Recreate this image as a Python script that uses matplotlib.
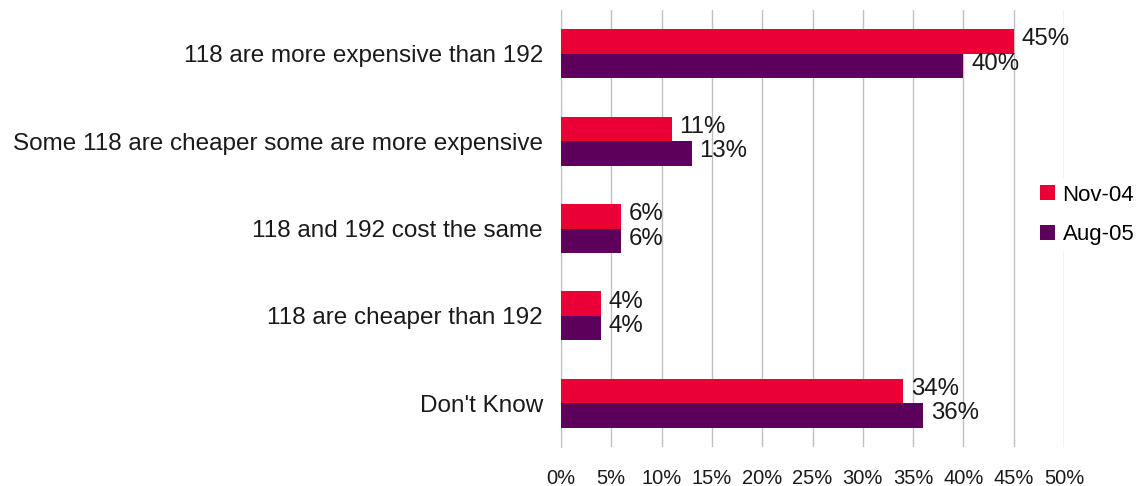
import numpy as np
import matplotlib.pyplot as plt

plt.rcParams['font.family'] = ['Liberation Sans', 'DejaVu Sans']

categorias = ["118 are more expensive than 192",
              "Some 118 are cheaper some are more expensive",
              "118 and 192 cost the same",
              "118 are cheaper than 192",
              "Don't Know"]
nov04 = [45, 11, 6, 4, 34]
aug05 = [40, 13, 6, 4, 36]
series = ["Nov-04", "Aug-05"]
colores = ["#EA0037", "#5C005C"]

fs = 17.3
fig = plt.figure(figsize=(11.43, 4.86), dpi=100)
ax = fig.add_axes([0.4908, 0.0802, 0.4401, 0.8992])

y = np.arange(len(categorias))
alto = 0.28
for k, (vals, nombre, color) in enumerate(zip([nov04, aug05], series, colores)):
    pos = y - alto / 2 + k * alto
    ax.barh(pos, vals, height=alto, color=color, label=nombre, zorder=3)
    for p, v in zip(pos, vals):
        ax.annotate(f"{v}%", (v, p), xytext=(5.5, 1.5), textcoords='offset points',
                    va='center', ha='left', fontsize=fs, color='#1a1a1a', zorder=4)

ax.set_ylim(len(categorias) - 0.5, -0.5)
ax.set_xlim(0, 50)
ax.set_xticks(np.arange(0, 51, 5))
ax.set_xticklabels([f"{t}%" for t in range(0, 51, 5)])
ax.set_yticks(y)
ax.set_yticklabels(categorias)
ax.tick_params(axis='both', length=0, colors='#1a1a1a')
ax.tick_params(axis='x', pad=16, labelsize=14.5)
ax.tick_params(axis='y', pad=13, labelsize=17.5)

ax.grid(axis='x', color='#c0c0c0', linewidth=1, zorder=0)
for s in ['top', 'right', 'bottom']:
    ax.spines[s].set_visible(False)
ax.spines['left'].set_color('#c0c0c0')

leg = ax.legend(loc='center left', bbox_to_anchor=(1033 / 1143, 1 - 215 / 486),
                bbox_transform=fig.transFigure, frameon=True, fontsize=16,
                handlelength=0.68, handleheight=0.68, handletextpad=0.35,
                labelspacing=0.85, borderpad=0.3, borderaxespad=0)
leg.get_frame().set_facecolor('white')
leg.get_frame().set_edgecolor('none')
leg.get_frame().set_alpha(1)
leg.get_frame().set_boxstyle('square', pad=0)

fig.savefig("out.png", dpi=100)
